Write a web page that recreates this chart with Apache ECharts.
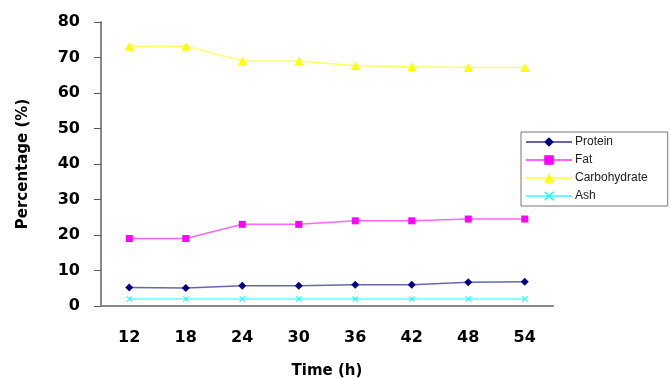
<!DOCTYPE html>
<html><head><meta charset="utf-8">
<script src="https://cdn.jsdelivr.net/npm/echarts@6/dist/echarts.min.js"></script>
<style>html,body{margin:0;padding:0;background:#fff}#c{width:670px;height:379px}</style>
</head><body><div id="c"></div>
<script>
const categories = ['12','18','24','30','36','42','48','54'];
const protein = [5.2, 5.1, 5.7, 5.7, 6.0, 6.0, 6.7, 6.8];
const fat = [19.0, 19.0, 23.0, 23.0, 24.0, 24.0, 24.5, 24.5];
const carbohydrate = [73.2, 73.2, 69.0, 69.0, 67.7, 67.4, 67.2, 67.2];
const ash = [2.0, 2.0, 2.0, 2.0, 2.0, 2.0, 2.0, 2.0];

const chart = echarts.init(document.getElementById('c'));
const cross = 'path://M0,1L1,0L5,4L9,0L10,1L6,5L10,9L9,10L5,6L1,10L0,9L4,5Z';
function mk(name, data, color, symbol, size) {
  return {name, type:'line', data, symbol, symbolSize:size, color,
    lineStyle:{width:1.5, color, opacity:0.6}, itemStyle:{color}};
}
chart.setOption({
  animation:false,
  textStyle:{fontFamily:'Liberation Sans, Arial, sans-serif'},
  grid:{left:101, right:117, top:22, bottom:73, outerBoundsMode:'none', containLabel:false},
  legend:{orient:'vertical', left:521, top:132, width:148,
    padding:[4,20,4,4], itemGap:6, itemWidth:46, itemHeight:12,
    borderColor:'#777', borderWidth:1,
    textStyle:{fontSize:12, color:'#222', padding:[0,0,0,-2]},
    data:['Protein','Fat','Carbohydrate','Ash']},
  xAxis:{type:'category', data:categories, boundaryGap:true,
    name:'Time (h)', nameLocation:'middle', nameGap:58,
    nameTextStyle:{fontSize:15, fontWeight:'bold', color:'#000', fontFamily:'DejaVu Sans'},
    axisLine:{lineStyle:{color:'#888', width:2}},
    axisTick:{lineStyle:{color:'#555'}, length:5, alignWithLabel:false},
    axisLabel:{fontSize:16, fontWeight:'bold', color:'#000', margin:24, fontFamily:'DejaVu Sans'}},
  yAxis:{type:'value', min:0, max:80, interval:10,
    name:'Percentage (%)', nameLocation:'middle', nameGap:70,
    nameTextStyle:{fontSize:15, fontWeight:'bold', color:'#000', fontFamily:'DejaVu Sans'},
    axisLine:{show:true, lineStyle:{color:'#888', width:2}},
    axisTick:{show:true, lineStyle:{color:'#555'}, length:7},
    splitLine:{show:false},
    axisLabel:{fontSize:16, fontWeight:'bold', color:'#000', margin:21, fontFamily:'DejaVu Sans'}},
  series:[
    mk('Protein', protein, '#000080', 'diamond', 8),
    mk('Fat', fat, '#FF00FF', 'rect', 7),
    mk('Carbohydrate', carbohydrate, '#FFFF00', 'triangle', 9),
    mk('Ash', ash, '#00FFFF', cross, 6)
  ]
});
</script></body></html>
